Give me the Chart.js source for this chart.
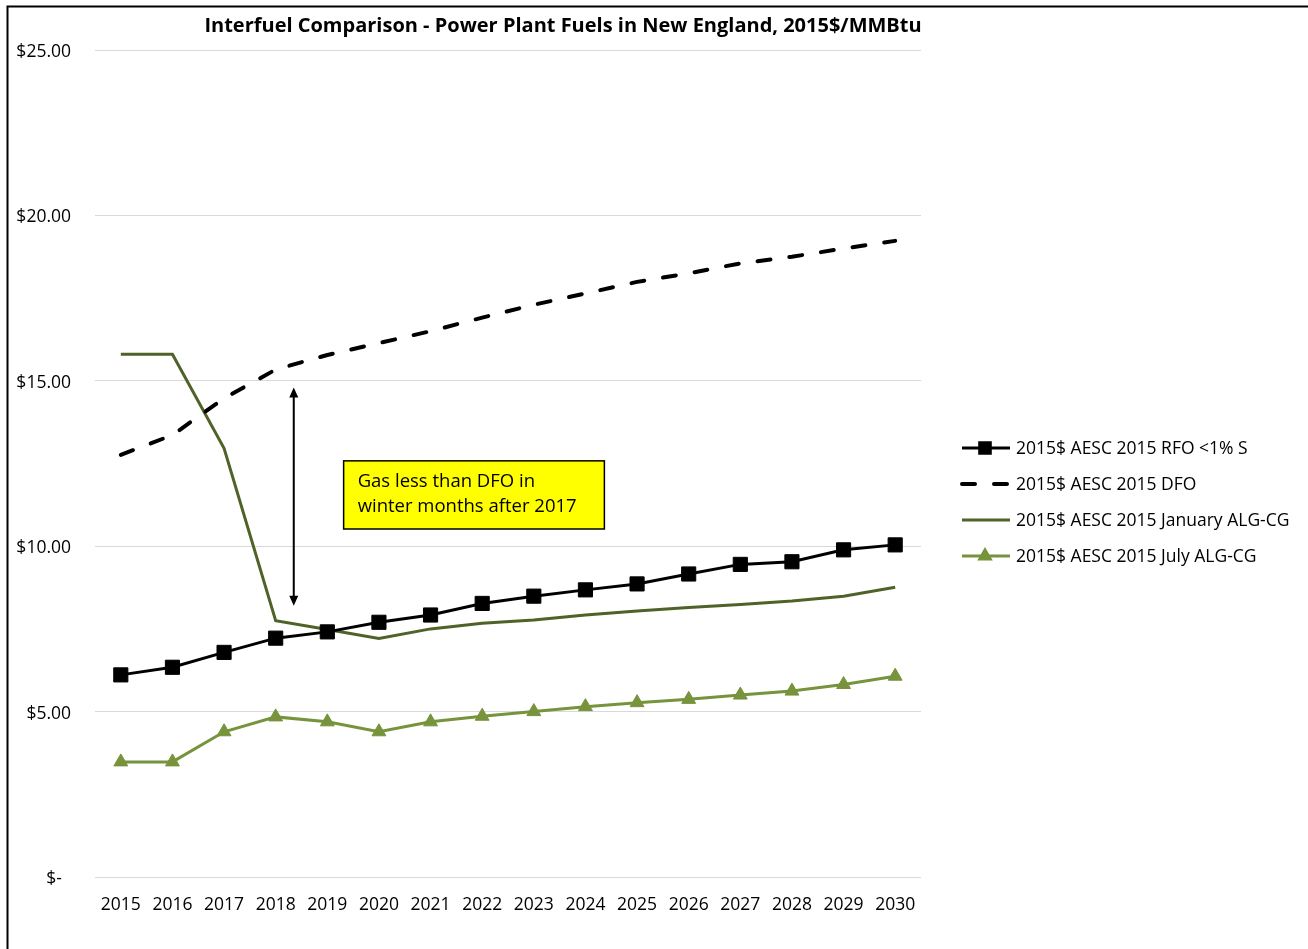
<!DOCTYPE html>
<html>
<head>
<meta charset="utf-8">
<script src="https://cdn.jsdelivr.net/npm/chart.js@4.4.1/dist/chart.umd.min.js"></script>
<style>
  html, body { margin: 0; padding: 0; background: #fff; }
  #wrap { width: 1308px; height: 949px; }
</style>
</head>
<body>
<div id="wrap"><canvas id="fuelChart" width="1308" height="949"></canvas></div>
<script>
const years = ['2015', '2016', '2017', '2018', '2019', '2020', '2021', '2022',
               '2023', '2024', '2025', '2026', '2027', '2028', '2029', '2030'];
const rfoPrices = [6.11, 6.34, 6.79, 7.22, 7.41, 7.70, 7.92, 8.27, 8.49, 8.68, 8.86, 9.16, 9.45, 9.53, 9.89, 10.04];
const dfoPrices = [12.76, 13.36, 14.47, 15.34, 15.78, 16.14, 16.50, 16.91, 17.30, 17.64, 17.99, 18.25, 18.55, 18.75, 19.00, 19.23];
const janGasPrices = [15.80, 15.80, 12.96, 7.75, 7.48, 7.21, 7.50, 7.67, 7.77, 7.92, 8.04, 8.15, 8.24, 8.34, 8.49, 8.76];
const julGasPrices = [3.48, 3.48, 4.39, 4.84, 4.69, 4.39, 4.69, 4.86, 5.00, 5.15, 5.27, 5.37, 5.50, 5.62, 5.82, 6.07];
const seriesNames = ['2015$ AESC 2015 RFO <1% S', '2015$ AESC 2015 DFO',
                     '2015$ AESC 2015 January ALG-CG', '2015$ AESC 2015 July ALG-CG'];
const yTicks = [0, 5, 10, 15, 20, 25];

const titleText = 'Interfuel Comparison - Power Plant Fuels in New England, 2015$/MMBtu';
const noteLines = ['Gas less than DFO in', 'winter months after 2017'];
const FONT = '"Open Sans", "Liberation Sans", sans-serif';

// frame, title, arrow, note box, legend
const extras = {
    id: 'extras',
    afterDraw(chart) {
        const ctx = chart.ctx;
        const x = chart.scales.x, y = chart.scales.y;
        ctx.save();

        // outer frame (top + left)
        ctx.strokeStyle = '#000';
        ctx.lineWidth = 2;
        ctx.beginPath();
        ctx.moveTo(1308, 6.5);
        ctx.lineTo(7.5, 6.5);
        ctx.lineTo(7.5, 949);
        ctx.stroke();

        // title
        ctx.fillStyle = '#000';
        ctx.font = 'bold 20px ' + FONT;
        ctx.textAlign = 'center';
        ctx.textBaseline = 'middle';
        ctx.fillText(titleText, 563, 26);

        // double arrow between DFO and gas
        const ax = x.getPixelForValue(3.35);
        const aTop = y.getPixelForValue(14.8);
        const aBot = y.getPixelForValue(8.2);
        ctx.lineWidth = 2;
        ctx.beginPath();
        ctx.moveTo(ax, aTop + 6);
        ctx.lineTo(ax, aBot - 6);
        ctx.stroke();
        ctx.beginPath();
        ctx.moveTo(ax, aTop); ctx.lineTo(ax - 4.5, aTop + 10); ctx.lineTo(ax + 4.5, aTop + 10); ctx.closePath();
        ctx.moveTo(ax, aBot); ctx.lineTo(ax - 4.5, aBot - 10); ctx.lineTo(ax + 4.5, aBot - 10); ctx.closePath();
        ctx.fill();

        // yellow note
        const bx1 = x.getPixelForValue(4.316), bx2 = x.getPixelForValue(9.367);
        const by1 = y.getPixelForValue(12.58), by2 = y.getPixelForValue(10.52);
        ctx.fillStyle = '#ffff00';
        ctx.fillRect(bx1, by1, bx2 - bx1, by2 - by1);
        ctx.lineWidth = 1.5;
        ctx.strokeRect(bx1, by1, bx2 - bx1, by2 - by1);
        ctx.fillStyle = '#000';
        ctx.font = '18.5px ' + FONT;
        ctx.textAlign = 'left';
        ctx.fillText(noteLines[0], bx1 + 14, by1 + 21);
        ctx.fillText(noteLines[1], bx1 + 14, by1 + 46);

        // legend
        chart.data.datasets.forEach((ds, i) => {
            const ly = 448 + i * 36;
            ctx.strokeStyle = ds.borderColor;
            ctx.lineWidth = ds.borderWidth;
            ctx.setLineDash(ds.borderDash || []);
            ctx.lineCap = ds.borderCapStyle || 'butt';
            ctx.beginPath();
            ctx.moveTo(962, ly);
            ctx.lineTo(1010, ly);
            ctx.stroke();
            ctx.setLineDash([]);
            ctx.lineCap = 'butt';
            if (ds.pointRadius > 0) {
                Chart.helpers.drawPoint(ctx, {
                    pointStyle: ds.pointStyle,
                    radius: ds.pointRadius * 0.75,
                    borderWidth: 1
                }, 985, ly);
                ctx.fillStyle = ds.pointBackgroundColor;
                ctx.fill();
            }
            ctx.fillStyle = '#000';
            ctx.font = '17.5px ' + FONT;
            ctx.textAlign = 'left';
            ctx.textBaseline = 'middle';
            ctx.fillText(seriesNames[i], 1016, ly + 1);
        });
        ctx.restore();
    }
};

const ctx = document.getElementById('fuelChart').getContext('2d');
new Chart(ctx, {
    type: 'line',
    data: {
        labels: years,
        datasets: [
            {
                label: seriesNames[0],
                data: rfoPrices,
                borderColor: '#000000',
                backgroundColor: '#000000',
                pointBackgroundColor: '#000000',
                pointBorderColor: '#000000',
                borderWidth: 3,
                pointStyle: 'rect',
                pointRadius: 10,
                pointBorderWidth: 1,
                order: 0
            },
            {
                label: seriesNames[1],
                data: dfoPrices,
                borderColor: '#000000',
                borderWidth: 4,
                borderDash: [13, 19],
                borderCapStyle: 'round',
                pointRadius: 0,
                order: 1
            },
            {
                label: seriesNames[2],
                data: janGasPrices,
                borderColor: '#4f6228',
                borderWidth: 3,
                pointRadius: 0,
                order: 2
            },
            {
                label: seriesNames[3],
                data: julGasPrices,
                borderColor: '#77933c',
                backgroundColor: '#77933c',
                pointBackgroundColor: '#77933c',
                pointBorderColor: '#77933c',
                borderWidth: 3,
                pointStyle: 'triangle',
                pointRadius: 8,
                pointBorderWidth: 1,
                order: 3
            }
        ]
    },
    options: {
        responsive: false,
        animation: false,
        layout: { padding: { left: 0, right: 387, top: 50, bottom: 0 } },
        plugins: {
            legend: { display: false },
            title: { display: false },
            tooltip: { enabled: false }
        },
        scales: {
            x: {
                offset: true,
                grid: { display: false, drawTicks: false },
                border: { display: false },
                ticks: { color: '#000', font: { family: FONT, size: 17.5 }, padding: 18, maxRotation: 0 },
                afterFit(scale) { scale.height = 72; }
            },
            y: {
                min: 0,
                max: 25,
                afterBuildTicks(scale) { scale.ticks = yTicks.map(v => ({ value: v })); },
                grid: { color: '#d9d9d9', lineWidth: 1, drawTicks: false },
                border: { display: false },
                ticks: {
                    color: '#000',
                    font: { family: FONT, size: 17.5 },
                    padding: 24,
                    labelOffset: 2,
                    callback: v => v === 0 ? '$-  ' : '$' + v.toFixed(2)
                },
                afterFit(scale) { scale.width = 95; }
            }
        }
    },
    plugins: [extras]
});
</script>
</body>
</html>
